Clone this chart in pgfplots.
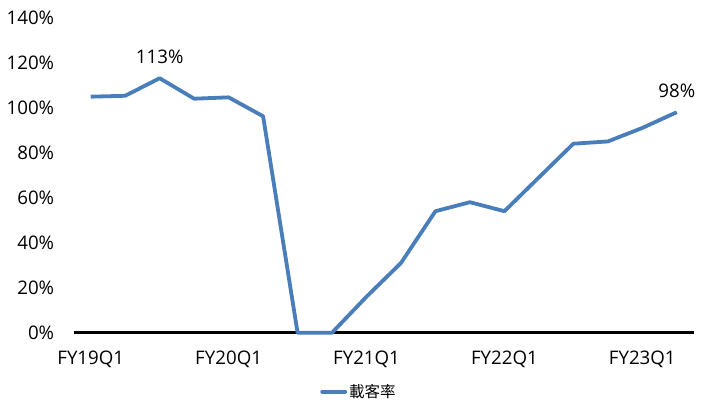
\documentclass[border=0pt]{standalone}
\usepackage{fontspec}
\setmainfont{Open Sans}
\newfontfamily\cjk{Noto Sans CJK TC}
\usepackage{pgfplots}
\pgfplotsset{compat=1.18}
\definecolor{lineblue}{HTML}{4A7EBB}
\begin{document}
\begin{tikzpicture}
\useasboundingbox (0,0) rectangle (720bp,414bp);
\begin{axis}[
  at={(73.5bp,81.3bp)}, anchor=south west,
  scale only axis, width=620.5bp, height=315bp,
  xmin=-0.5, xmax=17.5, ymin=0, ymax=140,
  clip=false,
  axis x line*=bottom, axis y line*=left,
  x axis line style={-, black, line width=3bp},
  y axis line style={draw=none},
  tick style={draw=none},
  xtick={0,4,8,12,16},
  xticklabels={FY19Q1,FY20Q1,FY21Q1,FY22Q1,FY23Q1},
  ytick={0,20,40,60,80,100,120,140},
  yticklabels={0\%,20\%,40\%,60\%,80\%,100\%,120\%,140\%},
  tick label style={font=\fontsize{18.7bp}{22bp}\selectfont, text=black},
  xticklabel style={anchor=base, inner sep=0pt, yshift=-31.3bp},
  yticklabel style={anchor=base east, inner sep=0pt, xshift=-19.2bp, yshift=-6.7bp},
  legend style={at={(0.46,-0.187)}, anchor=center, draw=none, fill=none,
    font=\fontsize{15.5bp}{18bp}\selectfont, inner sep=0pt,
    legend cell align=left},
  legend image code/.code={\draw[#1, line cap=round] (0bp,0bp) -- (23bp,0bp);},
]
\addplot[lineblue, line width=3.8bp, line join=round] coordinates {
(0,104.9) (1,105.3) (2,113.1) (3,104.0) (4,104.6) (5,96.2) (6,0) (7,0)
(8,16) (9,31) (10,54) (11,58) (12,54) (13,69) (14,84) (15,85) (16,91) (17,98)
};
\addlegendentry{\cjk 載客率}
\addplot[draw=none, forget plot,
  nodes near coords, point meta=explicit symbolic,
  every node near coord/.append style={font=\fontsize{18.7bp}{22bp}\selectfont, anchor=center, yshift=21.5bp}]
  coordinates {(2,113.1) [113\%] (17,98) [98\%]};
\end{axis}
\end{tikzpicture}
\end{document}
